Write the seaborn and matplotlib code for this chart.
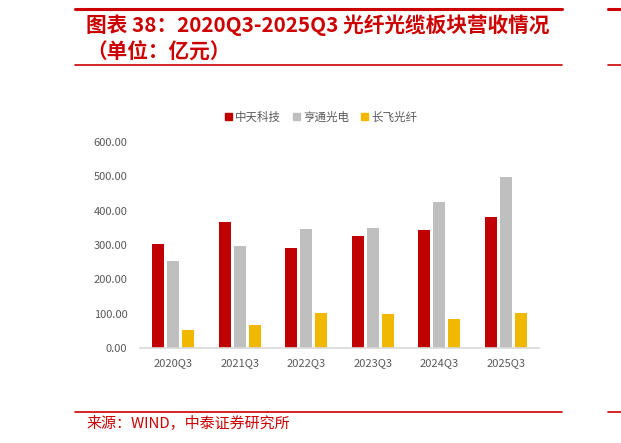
import pandas as pd
import seaborn as sns
import matplotlib.pyplot as plt
from matplotlib.lines import Line2D
from matplotlib.patches import Patch

# values (亿元)
quarters = ["2020Q3", "2021Q3", "2022Q3", "2023Q3", "2024Q3", "2025Q3"]
zhongtian = [304, 368, 292, 327, 344, 381]
hengtong = [253, 298, 348, 350, 424, 497]
changfei = [53, 68, 103, 100, 85, 103]
companies = ["中天科技", "亨通光电", "长飞光纤"]
colors = ["#C00000", "#BFBFBF", "#F0B800"]
yticks = [0, 100, 200, 300, 400, 500, 600]

df = pd.DataFrame({
    "quarter": quarters * 3,
    "company": [companies[0]] * 6 + [companies[1]] * 6 + [companies[2]] * 6,
    "value": zhongtian + hengtong + changfei,
})

sns.set_style("white")
plt.rcParams["font.family"] = ["Noto Sans CJK SC", "DejaVu Sans"]

W, H = 621, 443
fig = plt.figure(figsize=(W / 100, H / 100), dpi=100)

def fx(px):
    return px / W

def fy(py):
    return 1 - py / H

ax = fig.add_axes([fx(140), fy(348), fx(399), (348 - 142) / H])
sns.barplot(data=df, x="quarter", y="value", hue="company", palette=colors,
            width=0.68, gap=0.2, saturation=1, linewidth=0, ax=ax, legend=False)
ax.set_ylim(0, 600)
ax.set_yticks(yticks)
ax.set_yticklabels([f"{v:.2f}" for v in yticks])
ax.set_xlabel("")
ax.set_ylabel("")
for s in ["top", "right", "left"]:
    ax.spines[s].set_visible(False)
ax.spines["bottom"].set_color("#D9D9D9")
ax.spines["bottom"].set_linewidth(1.2)
ax.tick_params(axis="both", length=0, labelsize=8, labelcolor="#595959")
ax.tick_params(axis="x", pad=7)
ax.tick_params(axis="y", pad=9)

handles = [Patch(color=c) for c in colors]
fig.legend(handles, companies, loc="center", bbox_to_anchor=(fx(321), fy(117)),
           ncol=3, frameon=False, fontsize=8.3, handlelength=0.6, handleheight=0.6,
           handletextpad=0.3, columnspacing=1.0, labelcolor="#595959")

red = "#CC0000"
for y, lw in [(9, 2.2), (65, 1.2), (412, 1.2)]:
    fig.add_artist(Line2D([fx(75), fx(562)], [fy(y), fy(y)], color=red, lw=lw,
                          transform=fig.transFigure))
    fig.add_artist(Line2D([fx(608), fx(621)], [fy(y), fy(y)], color=red, lw=lw,
                          transform=fig.transFigure))

fig.text(fx(86), fy(25), "图表 38：2020Q3-2025Q3 光纤光缆板块营收情况", color=red,
         fontsize=14.9, fontweight="bold", fontstyle="italic", va="center")
fig.text(fx(86), fy(52), "（单位：亿元）", color=red,
         fontsize=14.9, fontweight="bold", fontstyle="italic", va="center")
fig.text(fx(86), fy(423), "来源：WIND，中泰证券研究所", color=red,
         fontsize=10.8, va="center")

fig.savefig("out.png", dpi=100)
